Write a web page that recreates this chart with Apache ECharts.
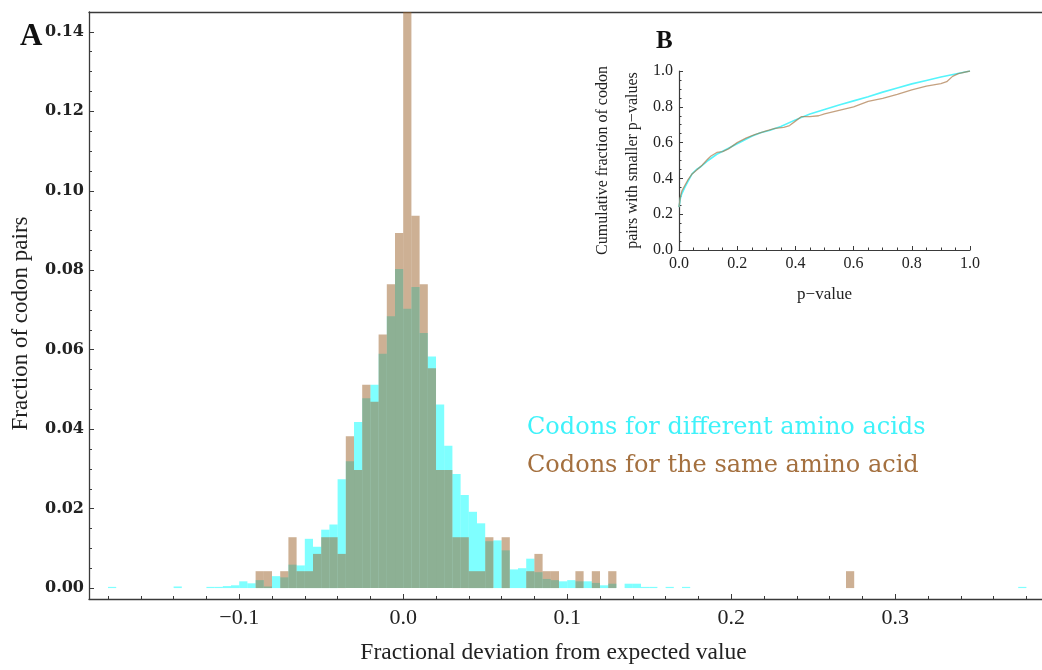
<!DOCTYPE html>
<html>
<head>
<meta charset="utf-8">
<script src="https://cdn.jsdelivr.net/npm/echarts@6/dist/echarts.min.js"></script>
<style>html,body{margin:0;padding:0;background:#fff}#c{width:1042px;height:670px}</style>
</head>
<body>
<div id="c"></div>
<script>
// ---------------- DATA ----------------
const BIN_WIDTH = 0.005;
const diffName = 'Codons for different amino acids';
const sameName = 'Codons for the same amino acid';

// Histogram A: left edges of bins and bar heights
const diffBinStarts = [-0.180,-0.140,-0.120,-0.115,-0.110,-0.105,-0.100,-0.095,-0.090,-0.085,-0.080,-0.075,
  -0.070,-0.065,-0.060,-0.055,-0.050,-0.045,-0.040,-0.035,-0.030,-0.025,-0.020,-0.015,-0.010,-0.005,
  0.000,0.005,0.010,0.015,0.020,0.025,0.030,0.035,0.040,0.045,0.050,0.055,0.060,0.065,0.070,0.075,
  0.080,0.085,0.090,0.095,0.100,0.105,0.110,0.115,0.120,0.125,0.135,0.140,0.145,0.150,0.160,0.170,0.375];
const diffValues = [0.0003,0.0004,0.0003,0.0003,0.0005,0.0007,0.0017,0.0012,0.0020,0.0004,0.0030,0.0027,
  0.0059,0.0057,0.0124,0.0104,0.0147,0.0160,0.0274,0.0319,0.0418,0.0478,0.0512,0.0590,0.0684,0.0803,
  0.0703,0.0758,0.0642,0.0583,0.0462,0.0358,0.0287,0.0234,0.0192,0.0163,0.0118,0.0120,0.0095,0.0047,0.0050,0.0074,
  0.0040,0.0023,0.0020,0.0017,0.0020,0.0017,0.0017,0.0013,0.0007,0.0011,0.0011,0.0011,0.0003,0.0003,0.0003,0.0003,0.0003];

const sameBinStarts = [-0.090,-0.085,-0.075,-0.070,-0.065,-0.060,-0.055,-0.050,-0.045,-0.040,-0.035,-0.030,
  -0.025,-0.020,-0.015,-0.010,-0.005,0.000,0.005,0.010,0.015,0.020,0.025,0.030,0.035,0.040,0.045,0.050,
  0.060,0.075,0.080,0.085,0.090,0.105,0.115,0.125,0.270];
const sameValues = [0.00425,0.00425,0.00425,0.0128,0.00425,0.00425,0.0086,0.0128,0.0128,0.0086,0.0382,0.0297,
  0.0512,0.0469,0.0638,0.0765,0.0894,0.1500,0.0937,0.0765,0.0553,0.0297,0.0297,0.0128,0.0128,0.00425,0.00425,0.0128,
  0.0128,0.00425,0.0086,0.00425,0.00425,0.00425,0.00425,0.00425,0.00425];

// Tick labels
const xTickValues = [-0.1, 0.0, 0.1, 0.2, 0.3];
const xMinorTickValues = [-0.18,-0.16,-0.14,-0.12,-0.08,-0.06,-0.04,-0.02,0.02,0.04,0.06,0.08,0.12,0.14,0.16,0.18,
  0.22,0.24,0.26,0.28,0.32,0.34,0.36,0.38];
const yTickValues = [0.00,0.02,0.04,0.06,0.08,0.10,0.12,0.14];
const yMinorTickValues = [0.005,0.010,0.015,0.025,0.030,0.035,0.045,0.050,0.055,0.065,0.070,0.075,0.085,0.090,0.095,
  0.105,0.110,0.115,0.125,0.130,0.135];

// Inset B: cumulative fraction vs p-value
const diffP = [0,0.005,0.01,0.02,0.03,0.045,0.06,0.075,0.1,0.13,0.16,0.19,0.22,0.25,0.28,0.31,0.35,0.4,0.45,0.5,
  0.55,0.6,0.65,0.7,0.75,0.8,0.85,0.9,0.95,1.0];
const diffCum = [0.24,0.29,0.315,0.35,0.38,0.425,0.45,0.465,0.5,0.535,0.56,0.585,0.61,0.635,0.655,0.668,0.69,0.727,0.76,0.785,
  0.81,0.833,0.856,0.882,0.905,0.928,0.947,0.966,0.983,1.0];
const sameP = [0,0.005,0.01,0.02,0.03,0.045,0.06,0.08,0.1,0.11,0.13,0.15,0.17,0.2,0.23,0.26,0.3,0.33,0.36,0.38,0.4,
  0.42,0.45,0.48,0.5,0.55,0.6,0.65,0.7,0.75,0.8,0.85,0.9,0.92,0.94,0.96,1.0];
const sameCum = [0.24,0.3,0.33,0.36,0.39,0.425,0.445,0.475,0.51,0.525,0.545,0.55,0.565,0.6,0.625,0.645,0.665,0.68,0.685,0.695,0.72,
  0.745,0.745,0.75,0.76,0.78,0.80,0.83,0.847,0.87,0.895,0.915,0.93,0.94,0.97,0.985,1.0];

// ---------------- CHART ----------------
const chart = echarts.init(document.getElementById('c'), null, {renderer: 'canvas'});
const SERIF = '"Liberation Serif", "DejaVu Serif", serif';
const WIDE_SERIF = '"DejaVu Serif", serif';
const AXIS_COLOR = '#3a3a3a';
const X_MIN = -0.19159, X_MAX = 0.38951, Y_MIN = -0.00275, Y_MAX = 0.145;
const CYAN_FILL = 'rgba(0,255,255,0.5)';
const TAN_FILL = 'rgba(155,97,41,0.5)';

function histRender(fill) {
  return function (params, api) {
    const x0 = api.value(0), v = api.value(1);
    const p0 = api.coord([x0, 0]);
    const p1 = api.coord([x0 + BIN_WIDTH, v]);
    const rect = echarts.graphic.clipRectByRect(
      {x: p0[0], y: p1[1], width: p1[0] - p0[0], height: p0[1] - p1[1]},
      {x: params.coordSys.x, y: params.coordSys.y, width: params.coordSys.width, height: params.coordSys.height});
    if (!rect) return;
    return {type: 'rect', shape: rect, style: {fill: fill}};
  };
}

const labelFmt2 = v => v.toFixed(2);
const labelFmt1 = v => (v < 0 ? '\u2212' : '') + Math.abs(v).toFixed(1);

const option = {
  backgroundColor: '#ffffff',
  animation: false,
  title: [
    {text: 'A', left: 15, top: 16, textStyle: {fontFamily: SERIF, fontWeight: 'bold', fontSize: 31, color: '#111'}},
    {text: 'B', left: 651, top: 24, textStyle: {fontFamily: SERIF, fontWeight: 'bold', fontSize: 25, color: '#111'}}
  ],
  legend: {
    orient: 'vertical', left: 517, top: 410, icon: 'none', itemWidth: 0, itemHeight: 26, itemGap: 13,
    selectedMode: false,
    textStyle: {fontFamily: WIDE_SERIF, fontSize: 24},
    data: [
      {name: diffName, textStyle: {color: '#3ef2fa'}},
      {name: sameName, textStyle: {color: '#a4703f'}}
    ]
  },
  grid: [
    {left: 89, right: 0, top: 12, bottom: 67},
    {left: 679, right: 72, top: 71, bottom: 420}
  ],
  xAxis: [
    { // 0: main, major ticks and labels
      type: 'value', gridIndex: 0, position: 'bottom', min: X_MIN, max: X_MAX,
      name: 'Fractional deviation from expected value', nameLocation: 'middle', nameGap: 42,
      nameTextStyle: {fontFamily: SERIF, fontSize: 23.5, color: '#222', padding: [0, 24, 0, 0]},
      axisLine: {show: true, onZero: false, lineStyle: {color: AXIS_COLOR, width: 1.3}},
      axisTick: {show: true, inside: true, length: 5, customValues: xTickValues, lineStyle: {color: AXIS_COLOR}},
      axisLabel: {customValues: xTickValues, formatter: labelFmt1, margin: 8, fontFamily: SERIF, fontSize: 22, color: '#222'},
      splitLine: {show: false}
    },
    { // 1: main, minor ticks
      type: 'value', gridIndex: 0, position: 'bottom', min: X_MIN, max: X_MAX,
      axisLine: {show: false, onZero: false},
      axisTick: {show: true, inside: true, length: 3, customValues: xMinorTickValues, lineStyle: {color: AXIS_COLOR}},
      axisLabel: {show: false}, splitLine: {show: false}
    },
    { // 2: top frame line
      type: 'value', gridIndex: 0, position: 'top', min: X_MIN, max: X_MAX,
      axisLine: {show: true, onZero: false, lineStyle: {color: AXIS_COLOR, width: 1.3}},
      axisTick: {show: false}, axisLabel: {show: false}, splitLine: {show: false}
    },
    { // 3: inset
      type: 'value', gridIndex: 1, min: 0, max: 1, interval: 0.2,
      name: 'p\u2212value', nameLocation: 'middle', nameGap: 36,
      nameTextStyle: {fontFamily: SERIF, fontSize: 17, color: '#222'},
      axisLine: {show: true, onZero: false, lineStyle: {color: AXIS_COLOR, width: 1.2}},
      axisTick: {show: true, inside: true, length: 4, lineStyle: {color: AXIS_COLOR}},
      minorTick: {show: true, splitNumber: 4, length: 2.5, lineStyle: {color: AXIS_COLOR}},
      axisLabel: {formatter: v => v.toFixed(1), margin: 6, fontFamily: SERIF, fontSize: 16, color: '#222'},
      splitLine: {show: false}
    }
  ],
  yAxis: [
    { // 0: main major
      type: 'value', gridIndex: 0, position: 'left', min: Y_MIN, max: Y_MAX,
      name: 'Fraction of codon pairs', nameLocation: 'middle', nameGap: 57,
      nameTextStyle: {fontFamily: SERIF, fontSize: 23, color: '#222', padding: [0, 36, 0, 0]},
      axisLine: {show: true, onZero: false, lineStyle: {color: AXIS_COLOR, width: 1.3}},
      axisTick: {show: true, inside: true, length: 5, customValues: yTickValues, lineStyle: {color: AXIS_COLOR}},
      axisLabel: {customValues: yTickValues, formatter: labelFmt2, margin: 5,
        fontFamily: WIDE_SERIF, fontWeight: 'bold', fontSize: 16, color: '#222'},
      splitLine: {show: false}
    },
    { // 1: main minor
      type: 'value', gridIndex: 0, position: 'left', min: Y_MIN, max: Y_MAX,
      axisLine: {show: false, onZero: false},
      axisTick: {show: true, inside: true, length: 3, customValues: yMinorTickValues, lineStyle: {color: AXIS_COLOR}},
      axisLabel: {show: false}, splitLine: {show: false}
    },
    { // 2: inset
      type: 'value', gridIndex: 1, position: 'left', min: 0, max: 1, interval: 0.2,
      name: 'Cumulative fraction of codon\npairs with smaller p\u2212values', nameLocation: 'middle', nameGap: 31,
      nameTextStyle: {fontFamily: SERIF, fontSize: 16, lineHeight: 30, color: '#222'},
      axisLine: {show: true, onZero: false, lineStyle: {color: AXIS_COLOR, width: 1.2}},
      axisTick: {show: true, inside: true, length: 4, lineStyle: {color: AXIS_COLOR}},
      minorTick: {show: true, splitNumber: 4, length: 2.5, lineStyle: {color: AXIS_COLOR}},
      axisLabel: {formatter: v => v.toFixed(1), margin: 6, fontFamily: SERIF, fontSize: 16, color: '#222'},
      splitLine: {show: false}
    }
  ],
  series: [
    {
      name: diffName, type: 'custom', xAxisIndex: 0, yAxisIndex: 0,
      renderItem: histRender(CYAN_FILL),
      itemStyle: {color: CYAN_FILL},
      data: diffBinStarts.map((x, i) => [x, diffValues[i]]),
      encode: {x: 0, y: 1}
    },
    {
      name: sameName, type: 'custom', xAxisIndex: 0, yAxisIndex: 0,
      renderItem: histRender(TAN_FILL),
      itemStyle: {color: TAN_FILL},
      data: sameBinStarts.map((x, i) => [x, sameValues[i]]),
      encode: {x: 0, y: 1}
    },
    {
      name: diffName + ' (CDF)', type: 'line', xAxisIndex: 3, yAxisIndex: 2, showSymbol: false,
      lineStyle: {color: '#55f4fb', width: 1.6},
      data: diffP.map((x, i) => [x, diffCum[i]])
    },
    {
      name: sameName + ' (CDF)', type: 'line', xAxisIndex: 3, yAxisIndex: 2, showSymbol: false,
      lineStyle: {color: 'rgba(165,110,60,0.65)', width: 1.3},
      data: sameP.map((x, i) => [x, sameCum[i]])
    }
  ]
};
chart.setOption(option);
</script>
</body>
</html>
